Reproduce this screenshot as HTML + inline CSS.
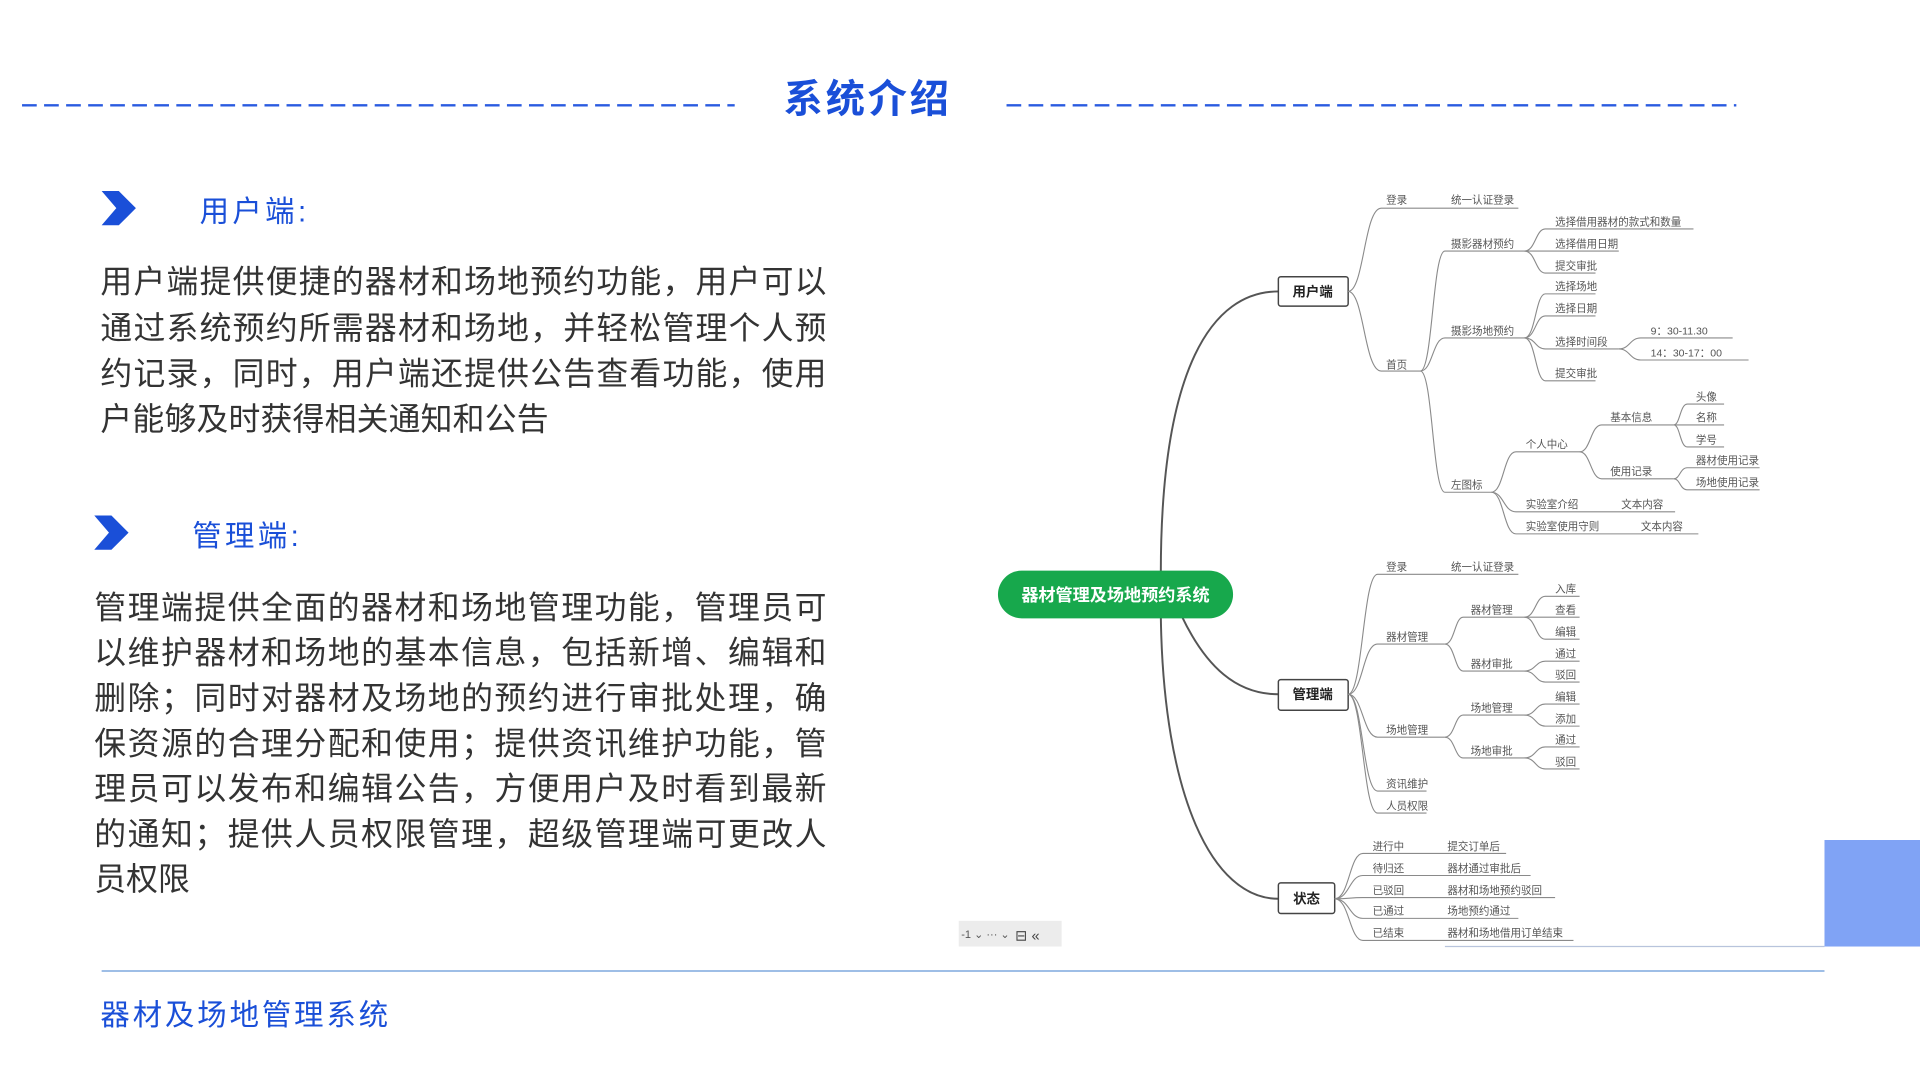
<!DOCTYPE html>
<html><head><meta charset="utf-8"><style>
html,body{margin:0;padding:0;background:#fff;width:1920px;height:1080px;overflow:hidden}
svg{display:block}
.t{font-family:"Liberation Sans","Noto Sans CJK SC",sans-serif}
.m{font-family:"Liberation Sans","Noto Sans CJK SC",sans-serif;font-size:8.6px;fill:#555}
.l{fill:none;stroke:#8a8a8a;stroke-width:0.9}
.r{fill:none;stroke:#555;stroke-width:1.6}
.p{font-family:"Liberation Sans","Noto Sans CJK SC",sans-serif;font-size:26px;fill:#333}
</style></head><body>
<svg width="1920" height="1080" viewBox="0 0 1568 882" xmlns="http://www.w3.org/2000/svg">
<line x1="18" y1="86" x2="600" y2="86" stroke="#2a5be0" stroke-width="2" stroke-dasharray="12 6"/>
<line x1="822" y1="86" x2="1418" y2="86" stroke="#2a5be0" stroke-width="2" stroke-dasharray="12 6"/>
<text class="t" x="640" y="92" font-size="32" font-weight="bold" fill="#1a4fd8" textLength="135">系统介绍</text>
<polygon points="83,156 97,156 111,170 97,184 83,184 95,170" fill="#1a4fd8"/>
<text class="t" x="163" y="181" font-size="24" fill="#1a4fd8" textLength="87">用户端:</text>
<text class="p" x="82" y="239" textLength="593">用户端提供便捷的器材和场地预约功能，用户可以</text>
<text class="p" x="82" y="277" textLength="593">通过系统预约所需器材和场地，并轻松管理个人预</text>
<text class="p" x="82" y="314" textLength="593">约记录，同时，用户端还提供公告查看功能，使用</text>
<text class="p" x="82" y="351" textLength="366">户能够及时获得相关通知和公告</text>
<polygon points="77,421 91,421 105,435 91,449 77,449 89,435" fill="#1a4fd8"/>
<text class="t" x="157" y="446" font-size="24" fill="#1a4fd8" textLength="87">管理端:</text>
<text class="p" x="77" y="505" textLength="598">管理端提供全面的器材和场地管理功能，管理员可</text>
<text class="p" x="77" y="542" textLength="598">以维护器材和场地的基本信息，包括新增、编辑和</text>
<text class="p" x="77" y="579" textLength="598">删除；同时对器材及场地的预约进行审批处理，确</text>
<text class="p" x="77" y="616" textLength="598">保资源的合理分配和使用；提供资讯维护功能，管</text>
<text class="p" x="77" y="653" textLength="598">理员可以发布和编辑公告，方便用户及时看到最新</text>
<text class="p" x="77" y="690" textLength="598">的通知；提供人员权限管理，超级管理端可更改人</text>
<text class="p" x="77" y="727">员权限</text>
<line x1="83" y1="793" x2="1490" y2="793" stroke="#7fa8dd" stroke-width="1.2"/>
<text class="t" x="82" y="837" font-size="24" fill="#1a4fd8" textLength="235">器材及场地管理系统</text>
<rect x="1490" y="686" width="78" height="87" fill="#80a3f5"/>
<line x1="1180" y1="773" x2="1490" y2="773" stroke="#b8c4dc" stroke-width="1"/>
<rect x="783" y="752" width="84" height="21" fill="#ececec"/>
<text class="t" x="785" y="766" font-size="9" fill="#555">-1 ⌄ ··· ⌄</text>
<text class="t" x="829" y="768" font-size="12" fill="#444">⊟ «</text>

<path class="r" d="M948,468 C948,300 990,238 1044,238"/>
<path class="r" d="M965,503 C985,545 1010,567 1044,567"/>
<path class="r" d="M948,503 C950,650 990,734 1044,734"/>
<rect x="815" y="466" width="192" height="39" rx="19.5" fill="#17a84c"/>
<text class="t" x="911" y="491" font-size="14" font-weight="bold" fill="#fff" text-anchor="middle">器材管理及场地预约系统</text>

<rect x="1044" y="226" width="57" height="24" rx="2" fill="#fff" stroke="#444" stroke-width="1.2"/>
<text class="t" x="1072" y="242" font-size="11" font-weight="bold" fill="#222" text-anchor="middle">用户端</text>
<rect x="1044" y="555" width="57" height="25" rx="2" fill="#fff" stroke="#444" stroke-width="1.2"/>
<text class="t" x="1072" y="571" font-size="11" font-weight="bold" fill="#222" text-anchor="middle">管理端</text>
<rect x="1044" y="721" width="46" height="25" rx="2" fill="#fff" stroke="#444" stroke-width="1.2"/>
<text class="t" x="1067" y="738" font-size="11" font-weight="bold" fill="#222" text-anchor="middle">状态</text>

<path class="l" d="M1101,238 C1114,238 1114,170 1128,170 L1240,170"/>
<path class="l" d="M1101,238 C1114,238 1114,303 1128,303 L1160,303"/>
<text class="m" x="1132" y="166">登录</text><text class="m" x="1185" y="166">统一认证登录</text>
<text class="m" x="1132" y="301">首页</text>
<path class="l" d="M1160,303 C1170,303 1170,205 1180,205 L1245,205"/>
<path class="l" d="M1160,303 C1170,303 1170,276 1180,276 L1245,276"/>
<path class="l" d="M1160,303 C1170,303 1170,402 1180,402 L1218,402"/>
<text class="m" x="1185" y="202">摄影器材预约</text>
<text class="m" x="1185" y="273">摄影场地预约</text>
<text class="m" x="1185" y="399">左图标</text>
<path class="l" d="M1245,205 C1254,205 1254,187 1262,187 L1383,187"/>
<path class="l" d="M1245,205 L1322,205"/>
<path class="l" d="M1245,205 C1254,205 1254,223 1262,223 L1303,223"/>
<text class="m" x="1270" y="184">选择借用器材的款式和数量</text>
<text class="m" x="1270" y="202">选择借用日期</text>
<text class="m" x="1270" y="220">提交审批</text>
<path class="l" d="M1245,276 C1254,276 1254,240 1262,240 L1303,240"/>
<path class="l" d="M1245,276 C1254,276 1254,258 1262,258 L1303,258"/>
<path class="l" d="M1245,276 C1254,276 1254,285 1262,285 L1322,285"/>
<path class="l" d="M1245,276 C1254,276 1254,311 1262,311 L1303,311"/>
<text class="m" x="1270" y="237">选择场地</text>
<text class="m" x="1270" y="255">选择日期</text>
<text class="m" x="1270" y="282">选择时间段</text>
<text class="m" x="1270" y="308">提交审批</text>
<path class="l" d="M1322,285 C1331,285 1331,276 1340,276 L1415,276"/>
<path class="l" d="M1322,285 C1331,285 1331,294 1340,294 L1428,294"/>
<text class="m" x="1348" y="273">9：30-11.30</text>
<text class="m" x="1348" y="291">14：30-17：00</text>
<path class="l" d="M1218,402 C1228,402 1228,369 1238,369 L1290,369"/>
<path class="l" d="M1218,402 C1228,402 1228,418 1238,418 L1368,418"/>
<path class="l" d="M1218,402 C1228,402 1228,436 1238,436 L1387,436"/>
<text class="m" x="1246" y="366">个人中心</text>
<text class="m" x="1246" y="415">实验室介绍</text><text class="m" x="1324" y="415">文本内容</text>
<text class="m" x="1246" y="433">实验室使用守则</text><text class="m" x="1340" y="433">文本内容</text>
<path class="l" d="M1290,369 C1299,369 1299,347 1308,347 L1367,347"/>
<path class="l" d="M1290,369 C1299,369 1299,391 1308,391 L1367,391"/>
<text class="m" x="1315" y="344">基本信息</text>
<text class="m" x="1315" y="388">使用记录</text>
<path class="l" d="M1367,347 C1372,347 1372,330 1378,330 L1408,330"/>
<path class="l" d="M1367,347 L1408,347"/>
<path class="l" d="M1367,347 C1372,347 1372,365 1378,365 L1408,365"/>
<text class="m" x="1385" y="327">头像</text>
<text class="m" x="1385" y="344">名称</text>
<text class="m" x="1385" y="362">学号</text>
<path class="l" d="M1367,391 C1372,391 1372,382 1378,382 L1437,382"/>
<path class="l" d="M1367,391 C1372,391 1372,400 1378,400 L1437,400"/>
<text class="m" x="1385" y="379">器材使用记录</text>
<text class="m" x="1385" y="397">场地使用记录</text>

<path class="l" d="M1101,567 C1113,567 1113,469 1125,469 L1240,469"/>
<path class="l" d="M1101,567 C1113,567 1113,526 1125,526 L1180,526"/>
<path class="l" d="M1101,567 C1113,567 1113,602 1125,602 L1180,602"/>
<path class="l" d="M1101,567 C1113,567 1113,646 1125,646 L1165,646"/>
<path class="l" d="M1101,567 C1113,567 1113,664 1125,664 L1165,664"/>
<text class="m" x="1132" y="466">登录</text><text class="m" x="1185" y="466">统一认证登录</text>
<text class="m" x="1132" y="523">器材管理</text>
<text class="m" x="1132" y="599">场地管理</text>
<text class="m" x="1132" y="643">资讯维护</text>
<text class="m" x="1132" y="661">人员权限</text>
<path class="l" d="M1180,526 C1188,526 1188,504 1195,504 L1245,504"/>
<path class="l" d="M1180,526 C1188,526 1188,548 1195,548 L1245,548"/>
<text class="m" x="1201" y="501">器材管理</text>
<text class="m" x="1201" y="545">器材审批</text>
<path class="l" d="M1245,504 C1254,504 1254,487 1262,487 L1290,487"/>
<path class="l" d="M1245,504 L1290,504"/>
<path class="l" d="M1245,504 C1254,504 1254,522 1262,522 L1290,522"/>
<text class="m" x="1270" y="484">入库</text>
<text class="m" x="1270" y="501">查看</text>
<text class="m" x="1270" y="519">编辑</text>
<path class="l" d="M1245,548 C1254,548 1254,540 1262,540 L1290,540"/>
<path class="l" d="M1245,548 C1254,548 1254,557 1262,557 L1290,557"/>
<text class="m" x="1270" y="537">通过</text>
<text class="m" x="1270" y="554">驳回</text>
<path class="l" d="M1180,602 C1188,602 1188,584 1195,584 L1245,584"/>
<path class="l" d="M1180,602 C1188,602 1188,619 1195,619 L1245,619"/>
<text class="m" x="1201" y="581">场地管理</text>
<text class="m" x="1201" y="616">场地审批</text>
<path class="l" d="M1245,584 C1254,584 1254,575 1262,575 L1290,575"/>
<path class="l" d="M1245,584 C1254,584 1254,593 1262,593 L1290,593"/>
<text class="m" x="1270" y="572">编辑</text>
<text class="m" x="1270" y="590">添加</text>
<path class="l" d="M1245,619 C1254,619 1254,610 1262,610 L1290,610"/>
<path class="l" d="M1245,619 C1254,619 1254,628 1262,628 L1290,628"/>
<text class="m" x="1270" y="607">通过</text>
<text class="m" x="1270" y="625">驳回</text>

<path class="l" d="M1090,734 C1102,734 1102,697 1113,697 L1230,697"/>
<path class="l" d="M1090,734 C1102,734 1102,715 1113,715 L1250,715"/>
<path class="l" d="M1090,734 C1102,734 1102,733 1113,733 L1270,733"/>
<path class="l" d="M1090,734 C1102,734 1102,750 1113,750 L1240,750"/>
<path class="l" d="M1090,734 C1102,734 1102,768 1113,768 L1285,768"/>
<text class="m" x="1121" y="694">进行中</text><text class="m" x="1182" y="694">提交订单后</text>
<text class="m" x="1121" y="712">待归还</text><text class="m" x="1182" y="712">器材通过审批后</text>
<text class="m" x="1121" y="730">已驳回</text><text class="m" x="1182" y="730">器材和场地预约驳回</text>
<text class="m" x="1121" y="747">已通过</text><text class="m" x="1182" y="747">场地预约通过</text>
<text class="m" x="1121" y="765">已结束</text><text class="m" x="1182" y="765">器材和场地借用订单结束</text>
</svg>
</body></html>
